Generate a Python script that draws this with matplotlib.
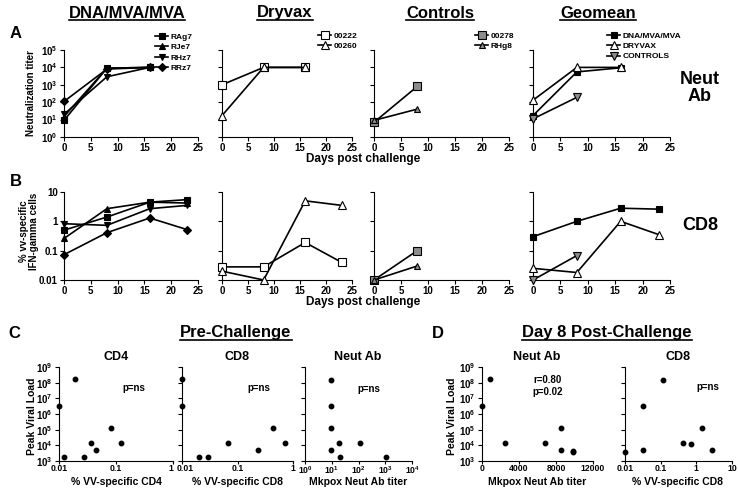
import matplotlib
matplotlib.use("Agg")
import math
import matplotlib.pyplot as plt
from matplotlib.ticker import FixedLocator, NullLocator, FuncFormatter
from matplotlib.lines import Line2D
from matplotlib.transforms import ScaledTranslation

plt.rcParams["font.family"] = ["Liberation Sans", "DejaVu Sans"]
plt.rcParams["font.weight"] = "bold"
plt.rcParams["mathtext.fontset"] = "custom"
plt.rcParams["mathtext.rm"] = "Liberation Sans:bold"
plt.rcParams["mathtext.bf"] = "Liberation Sans:bold"
plt.rcParams["mathtext.it"] = "Liberation Sans:bold"

W, H = 738, 493

# ---- panel A: neutralization titers ----
days_ab = [0, 8, 16]
days_ctl = [0, 8]
ab_rag7 = [9, 9000, 10000]
ab_rje7 = [15, 9000, 10000]
ab_rhz7 = [20, 2900, 10000]
ab_rrz7 = [110, 8000, 10000]
ab_00222 = [1000, 10000, 10000]
ab_00260 = [17, 10000, 10000]
ab_00278 = [7, 800]
ab_rhg8 = [9, 40]
ab_geo_dna = [17, 5500, 9500]
ab_geo_dryvax = [130, 10000, 10000]
ab_geo_ctl = [11, 190]

# ---- panel B: CD8 IFN-gamma ----
days_cd8 = [0, 8, 16, 23]
cd8_rag7 = [0.5, 1.4, 4.5, 5.5]
cd8_rje7 = [0.26, 2.7, 4.5, 4.2]
cd8_rhz7 = [0.83, 0.73, 2.7, 3.5]
cd8_rrz7 = [0.073, 0.41, 1.3, 0.52]
cd8_00222 = [0.028, 0.028, 0.19, 0.04]
cd8_00260 = [0.02, 0.01, 5.0, 3.5]
cd8_00278 = [0.01, 0.1]
cd8_rhg8 = [0.01, 0.03]
cd8_geo_dna = [0.3, 1.0, 2.8, 2.6]
cd8_geo_dryvax = [0.025, 0.018, 1.0, 0.35]
cd8_geo_ctl = [0.01, 0.068]

# ---- panel C: pre-challenge correlates ----
pre_cd4 = [0.01, 0.012, 0.019, 0.028, 0.037, 0.045, 0.081, 0.124]
pre_cd4_vl = [3.4e6, 1.9e3, 1.6e8, 1.9e3, 1.5e4, 4.9e3, 1.3e5, 1.4e4]
pre_cd8 = [0.01, 0.01, 0.02, 0.03, 0.067, 0.23, 0.43, 0.71]
pre_cd8_vl = [1.6e8, 3.4e6, 1.9e3, 1.9e3, 1.5e4, 4.9e3, 1.3e5, 1.4e4]
pre_nab = [9.4, 9.4, 9.4, 18, 9.4, 20.6, 116, 1100]
pre_nab_vl = [1.5e8, 3.1e6, 1.3e5, 1.4e4, 4.7e3, 1.9e3, 1.5e4, 1.9e3]

# ---- panel D: day 8 correlates ----
d8_nab = [0, 900, 2450, 6800, 8560, 8560, 9850, 9850]
d8_nab_vl = [3.4e6, 1.6e8, 1.5e4, 1.4e4, 1.3e5, 5.0e3, 4.6e3, 3.7e3]
d8_cd8 = [0.01, 0.033, 0.033, 0.12, 0.43, 0.71, 1.41, 2.7]
d8_cd8_vl = [3.7e3, 4.7e3, 3.1e6, 1.5e8, 1.4e4, 1.3e4, 1.3e5, 4.7e3]

GRAY = "#8c8c8c"


def box(l, r, t, b):
    return [l / W, 1 - b / H, (r - l) / W, (b - t) / H]


def fx(px):
    return px / W


def fy(py):
    return 1 - py / H


def pow10(v, pos):
    return r"$\mathbf{10^{%d}}$" % round(math.log10(v))


def plain(v, pos):
    return "%g" % v


def style(ax, show_ylabels):
    ax.spines[["top", "right"]].set_visible(False)
    for s in ["left", "bottom"]:
        ax.spines[s].set_linewidth(0.8)
    ax.tick_params(direction="out", length=3, width=0.8, labelsize=7, pad=1.5)
    ax.tick_params(axis="x", pad=1)
    ax.yaxis.set_minor_locator(NullLocator())
    ax.xaxis.set_minor_locator(NullLocator())
    if not show_ylabels:
        ax.tick_params(axis="y", labelleft=False)


def line(ax, x, y, marker, face, label=None, ms=5):
    ax.plot(x, y, color="black", lw=1.2, marker=marker, mfc=face, mec="black",
            mew=0.8, ms=ms, label=label, clip_on=False, zorder=3)


def time_axes(rect, ylim, yticks, fmt, show_ylabels):
    ax = fig.add_axes(rect)
    ax.set_yscale("log")
    ax.set_xlim(0, 25)
    ax.set_ylim(*ylim)
    ax.xaxis.set_major_locator(FixedLocator([0, 5, 10, 15, 20, 25]))
    ax.yaxis.set_major_locator(FixedLocator(yticks))
    ax.yaxis.set_major_formatter(FuncFormatter(fmt))
    style(ax, show_ylabels)
    return ax


def legend(ax, px, py):
    ax.legend(loc="upper left", bbox_to_anchor=(fx(px), fy(py)),
              bbox_transform=fig.transFigure, frameon=False, fontsize=6,
              handlelength=1.6, handletextpad=0.3, labelspacing=0.3,
              borderpad=0, borderaxespad=0, markerscale=0.9)


fig = plt.figure(figsize=(W / 100, H / 100), dpi=100)

cols = [(64, 198), (222, 352), (374, 509), (533, 670)]
ab_ticks = [1, 10, 100, 1e3, 1e4, 1e5]
cd8_ticks = [0.01, 0.1, 1, 10]

# row A
axA = [time_axes(box(l, r, 50, 137), (1, 1e5), ab_ticks, pow10, i == 0)
       for i, (l, r) in enumerate(cols)]
line(axA[0], days_ab, ab_rag7, "s", "black", "RAg7")
line(axA[0], days_ab, ab_rje7, "^", "black", "RJe7")
line(axA[0], days_ab, ab_rhz7, "v", "black", "RHz7")
line(axA[0], days_ab, ab_rrz7, "D", "black", "RRz7", ms=4)
line(axA[1], days_ab, ab_00222, "s", "white", "00222", ms=6)
line(axA[1], days_ab, ab_00260, "^", "white", "00260", ms=6)
line(axA[2], days_ctl, ab_00278, "s", GRAY, "00278", ms=6)
line(axA[2], days_ctl, ab_rhg8, "^", GRAY, "RHg8", ms=5)
line(axA[3], days_ab, ab_geo_dna, "s", "black", "DNA/MVA/MVA")
line(axA[3], days_ab, ab_geo_dryvax, "^", "white", "DRYVAX", ms=6)
line(axA[3], days_ctl, ab_geo_ctl, "v", GRAY, "CONTROLS", ms=6)
legend(axA[0], 155, 33)
legend(axA[1], 318, 32)
legend(axA[2], 475, 32)
legend(axA[3], 607, 32)

# row B
axB = [time_axes(box(l, r, 192, 280), (0.01, 10), cd8_ticks, plain, i == 0)
       for i, (l, r) in enumerate(cols)]
line(axB[0], days_cd8, cd8_rag7, "s", "black")
line(axB[0], days_cd8, cd8_rje7, "^", "black")
line(axB[0], days_cd8, cd8_rhz7, "v", "black")
line(axB[0], days_cd8, cd8_rrz7, "D", "black", ms=4)
line(axB[1], days_cd8, cd8_00222, "s", "white", ms=6)
line(axB[1], days_cd8, cd8_00260, "^", "white", ms=6)
line(axB[2], days_ctl, cd8_00278, "s", GRAY, ms=6)
line(axB[2], days_ctl, cd8_rhg8, "^", GRAY)
line(axB[3], days_cd8, cd8_geo_dna, "s", "black")
line(axB[3], days_cd8, cd8_geo_dryvax, "^", "white", ms=6)
line(axB[3], days_ctl, cd8_geo_ctl, "v", GRAY, ms=6)

# column titles
titles = ["DNA/MVA/MVA", "Dryvax", "Controls", "Geomean"]
title_x = [127, 285, 440, 598]
underline = []
for t, x in zip(titles, title_x):
    underline.append(fig.text(fx(x), fy(13), t, ha="center", va="center", fontsize=12))

fig.text(fx(10), fy(33), "A", fontsize=12, ha="left", va="center")
fig.text(fx(10), fy(181), "B", fontsize=12, ha="left", va="center")
fig.text(fx(31), fy(93), "Neutralization titer", rotation=90, fontsize=7,
         ha="center", va="center")
fig.text(fx(29), fy(231), "% vv-specific\nIFN-gamma cells", rotation=90,
         fontsize=7, ha="center", va="center", linespacing=1.1)
fig.text(fx(363), fy(159), "Days post challenge", fontsize=8.5, ha="center", va="center")
fig.text(fx(363), fy(302), "Days post challenge", fontsize=8.5, ha="center", va="center")
fig.text(fx(700), fy(88), "Neut\nAb", fontsize=13, ha="center", va="center",
         linespacing=1.0)
fig.text(fx(700), fy(225), "CD8", fontsize=13, ha="center", va="center")


# rows C and D
def scatter_axes(l, r, xscale, xlim, xticks, xfmt, show_ylabels):
    ax = fig.add_axes(box(l, r, 367, 461))
    ax.set_yscale("log")
    ax.set_xscale(xscale)
    ax.set_xlim(*xlim)
    ax.set_ylim(1e3, 1e9)
    ax.xaxis.set_major_locator(FixedLocator(xticks))
    ax.xaxis.set_major_formatter(FuncFormatter(xfmt))
    ax.yaxis.set_major_locator(FixedLocator([10.0 ** k for k in range(3, 10)]))
    ax.yaxis.set_major_formatter(FuncFormatter(pow10))
    style(ax, show_ylabels)
    ax.tick_params(axis="x", length=2, pad=0.5, labelsize=6.2)
    return ax


def dots(ax, x, y):
    ax.plot(x, y, "o", color="black", ms=3.2, clip_on=False, zorder=3)


c1 = scatter_axes(59, 173, "log", (0.01, 1), [0.01, 0.1, 1], plain, True)
c2 = scatter_axes(182, 293, "log", (0.01, 1), [0.01, 0.1, 1], plain, False)
c3 = scatter_axes(305, 412, "log", (1, 1e4), [1, 10, 100, 1e3, 1e4], pow10, False)
d1 = scatter_axes(482, 593, "linear", (0, 12000), [0, 4000, 8000, 12000],
                  lambda v, p: "%d" % v, True)
d2 = scatter_axes(625, 732, "log", (0.01, 10), [0.01, 0.1, 1, 10], plain, False)

dots(c1, pre_cd4, pre_cd4_vl)
dots(c2, pre_cd8, pre_cd8_vl)
dots(c3, pre_nab, pre_nab_vl)
dots(d1, d8_nab, d8_nab_vl)
dots(d2, d8_cd8, d8_cd8_vl)

# nudge crowded neighbouring tick labels apart, as in the original
fig.canvas.draw()
c1.get_xticklabels()[-1].set_transform(
    c1.get_xticklabels()[-1].get_transform() + ScaledTranslation(-1.5 / 72, 0, fig.dpi_scale_trans))
c2.get_xticklabels()[0].set_transform(
    c2.get_xticklabels()[0].get_transform() + ScaledTranslation(2.5 / 72, 0, fig.dpi_scale_trans))

for ax, t, xl, px in [(c1, "CD4", "% VV-specific CD4", 116),
                      (c2, "CD8", "% VV-specific CD8", 237),
                      (c3, "Neut Ab", "Mkpox Neut Ab titer", 358),
                      (d1, "Neut Ab", "Mkpox Neut Ab titer", 537),
                      (d2, "CD8", "% VV-specific CD8", 678)]:
    fig.text(fx(px), fy(357), t, fontsize=9, ha="center", va="center")
    fig.text(fx(px), fy(482), xl, fontsize=7.5, ha="center", va="center")

for px in [32, 452]:
    fig.text(fx(px), fy(416), "Peak Viral Load", rotation=90, fontsize=7.5,
             ha="center", va="center")

fig.text(fx(134), fy(388), "p=ns", fontsize=7, ha="center", va="center")
fig.text(fx(259), fy(388), "p=ns", fontsize=7, ha="center", va="center")
fig.text(fx(369), fy(389), "p=ns", fontsize=7, ha="center", va="center")
fig.text(fx(548), fy(386), "r=0.80\np=0.02", fontsize=7, ha="center",
         va="center", linespacing=1.2)
fig.text(fx(708), fy(387), "p=ns", fontsize=7, ha="center", va="center")

fig.text(fx(8), fy(334), "C", fontsize=12, ha="left", va="center")
fig.text(fx(432), fy(334), "D", fontsize=12, ha="left", va="center")
underline.append(fig.text(fx(236), fy(333), "Pre-Challenge", fontsize=12,
                          ha="center", va="center"))
underline.append(fig.text(fx(607), fy(333), "Day 8 Post-Challenge", fontsize=12,
                          ha="center", va="center"))

# underline the section titles
renderer = fig.canvas.get_renderer()
for t in underline:
    bb = t.get_window_extent(renderer).transformed(fig.transFigure.inverted())
    fig.add_artist(Line2D([bb.x0, bb.x1], [bb.y0 + 0.002, bb.y0 + 0.002],
                          color="black", lw=1.2, transform=fig.transFigure))

fig.savefig("out.png", dpi=100)
